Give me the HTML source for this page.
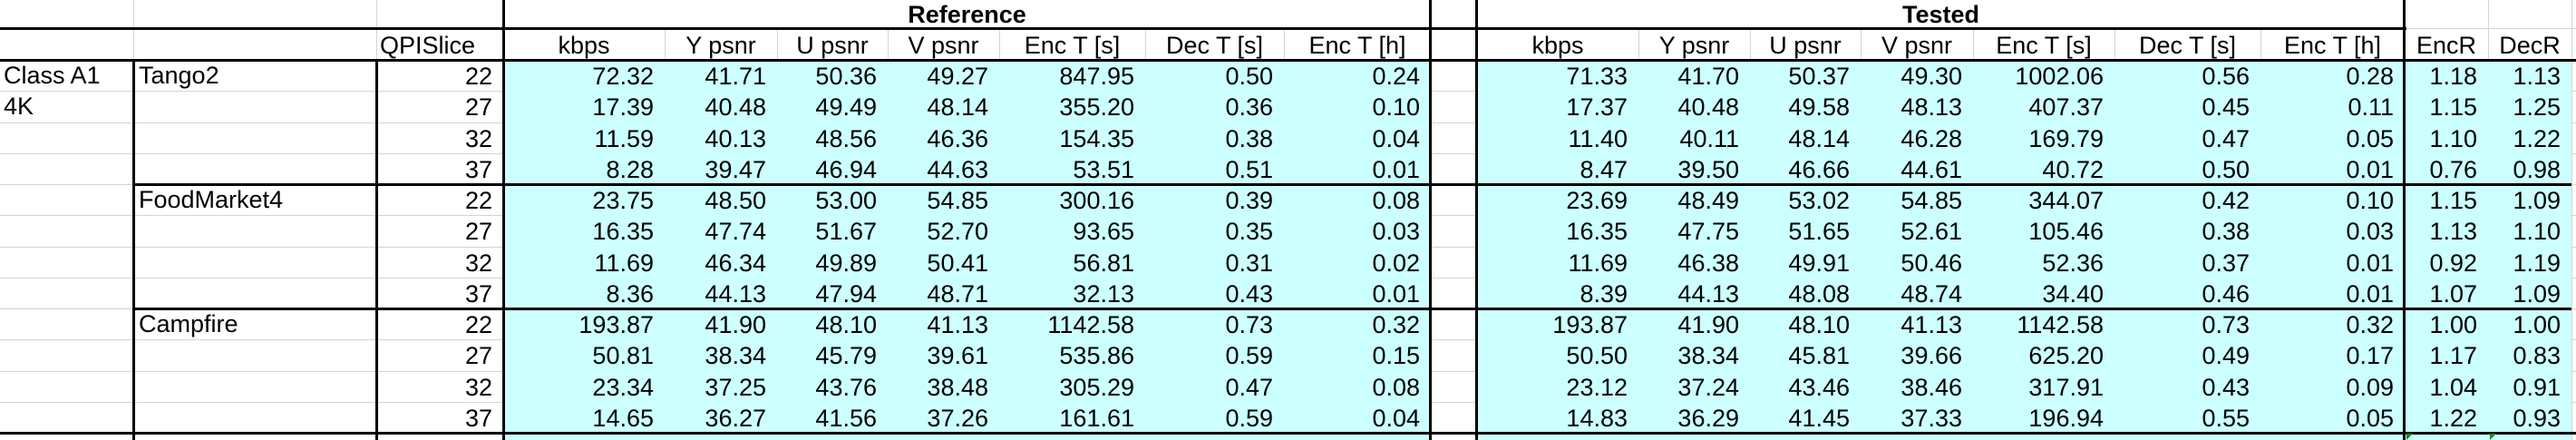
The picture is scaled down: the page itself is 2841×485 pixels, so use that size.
<!DOCTYPE html>
<html><head><meta charset="utf-8">
<style>
html,body{margin:0;padding:0;background:#fff;}
#sheet{position:relative;width:2841px;height:485px;overflow:hidden;font-family:"Liberation Sans",Arial,sans-serif;font-size:27px;color:#000;}
.c{position:absolute;box-sizing:border-box;white-space:nowrap;line-height:34px;}
.r{text-align:right;padding-right:12px;}
.m{text-align:center;}
.l{text-align:left;padding-left:4px;}
.fill{position:absolute;background:#ccffff;}
.h{position:absolute;height:3px;background:#000;}
.v{position:absolute;width:3px;background:#000;}
.gh{position:absolute;height:1px;background:#d4d4d4;}
.gv{position:absolute;width:1px;background:#d4d4d4;}
</style></head>
<body>
<div id="sheet"></div>
<script>
const sequences = ["Tango2","FoodMarket4","Campfire"];
const qps = [22,27,32,37];
const headers = ["kbps","Y psnr","U psnr","V psnr","Enc T [s]","Dec T [s]","Enc T [h]"];
const refValues = [
["72.32","41.71","50.36","49.27","847.95","0.50","0.24"],
["17.39","40.48","49.49","48.14","355.20","0.36","0.10"],
["11.59","40.13","48.56","46.36","154.35","0.38","0.04"],
["8.28","39.47","46.94","44.63","53.51","0.51","0.01"],
["23.75","48.50","53.00","54.85","300.16","0.39","0.08"],
["16.35","47.74","51.67","52.70","93.65","0.35","0.03"],
["11.69","46.34","49.89","50.41","56.81","0.31","0.02"],
["8.36","44.13","47.94","48.71","32.13","0.43","0.01"],
["193.87","41.90","48.10","41.13","1142.58","0.73","0.32"],
["50.81","38.34","45.79","39.61","535.86","0.59","0.15"],
["23.34","37.25","43.76","38.48","305.29","0.47","0.08"],
["14.65","36.27","41.56","37.26","161.61","0.59","0.04"]];
const testValues = [
["71.33","41.70","50.37","49.30","1002.06","0.56","0.28"],
["17.37","40.48","49.58","48.13","407.37","0.45","0.11"],
["11.40","40.11","48.14","46.28","169.79","0.47","0.05"],
["8.47","39.50","46.66","44.61","40.72","0.50","0.01"],
["23.69","48.49","53.02","54.85","344.07","0.42","0.10"],
["16.35","47.75","51.65","52.61","105.46","0.38","0.03"],
["11.69","46.38","49.91","50.46","52.36","0.37","0.01"],
["8.39","44.13","48.08","48.74","34.40","0.46","0.01"],
["193.87","41.90","48.10","41.13","1142.58","0.73","0.32"],
["50.50","38.34","45.81","39.66","625.20","0.49","0.17"],
["23.12","37.24","43.46","38.46","317.91","0.43","0.09"],
["14.83","36.29","41.45","37.33","196.94","0.55","0.05"]];
const encR = ["1.18","1.15","1.10","0.76","1.15","1.13","0.92","1.07","1.00","1.17","1.04","1.22"];
const decR = ["1.13","1.25","1.22","0.98","1.09","1.10","1.19","1.09","1.00","0.83","0.91","0.93"];

const S = document.getElementById('sheet');
const refX = [555,733,857,979,1102,1263,1416,1578];
const tstX = [1629,1807,1930,2052,2176,2332,2493,2652];
const Y0 = 66, RH = 34.25;
function rowY(i){return Y0 + i*RH;}
function box(cls,x,y,w,h){const d=document.createElement('div');d.className=cls;d.style.left=x+'px';d.style.top=y+'px';d.style.width=w+'px';d.style.height=h+'px';S.appendChild(d);return d;}
function txt(cls,x,y,w,t,bold){const d=box('c '+cls,x,y,w,34);d.textContent=t;if(bold)d.style.fontWeight='bold';return d;}

let f;
f=box('fill',refX[0],Y0,refX[7]-refX[0],485-Y0);


f=box('fill',tstX[0],Y0,2836-tstX[0],485-Y0);



[31,66].forEach(y=>box('gh',0,y,2841,1));
for(let i=1;i<=12;i++){const y=Math.round(rowY(i));box('gh',0,y,555,1);box('gh',1578,y,51,1);box('gh',2836,y,5,1);}
[147,415].forEach(x=>box('gv',x,0,1,66));
for(let k=1;k<7;k++){box('gv',refX[k],31,1,35);box('gv',tstX[k],31,1,35);}
box('gv',2744,0,1,66);box('gv',2836,0,1,485);

box('h',0,30,2654,3);
box('h',0,65,2841,3);
box('h',147,Math.round(rowY(4))-1,2689,3);
box('h',147,Math.round(rowY(8))-1,2689,3);
box('h',0,Math.round(rowY(12))-1,2841,3);
[555,1577,1628,2651].forEach(x=>box('v',x-1,0,3,485));
[147,415].forEach(x=>box('v',x-1,66,3,419));

[2653,2745].forEach(x=>{const g=document.createElement('div');g.style.cssText='position:absolute;left:'+(x+1)+'px;top:478px;width:0;height:0;border-top:7px solid #1a8a1a;border-right:7px solid transparent;';S.appendChild(g);});

let t;
t=txt('m',refX[0],-1,refX[7]-refX[0],'Reference',true);


t=txt('m',tstX[0],-1,tstX[7]-tstX[0],'Tested',true);


t=txt('l',415,33,140,'QPISlice');


headers.forEach((h,k)=>{
  let a=txt('m',refX[k],33,refX[k+1]-refX[k],h);
  
  
  let b=txt('m',tstX[k],33,tstX[k+1]-tstX[k],h);
  
  
});
t=txt('m',2652,33,92,'EncR');


t=txt('m',2744,33,92,'DecR');



t=txt('l',0,rowY(0),147,'Class A1');


t=txt('l',0,rowY(1),147,'4K');


sequences.forEach((s,i)=>{
  const d=txt('l',149,rowY(i*4),260,s);
  
  
});

for(let i=0;i<12;i++){
  const y=rowY(i)+1;
  const q=txt('r',415,y,140,String(qps[i%4]));
  
  
  for(let k=0;k<7;k++){
    const a=txt('r',refX[k],y,refX[k+1]-refX[k],refValues[i][k]);
    
    
    const b=txt('r',tstX[k],y,tstX[k+1]-tstX[k],testValues[i][k]);
    
    
  }
  const e=txt('r',2652,y,92,encR[i]);
  
  
  const d=txt('r',2744,y,92,decR[i]);
  
  
}
</script>
</body></html>
